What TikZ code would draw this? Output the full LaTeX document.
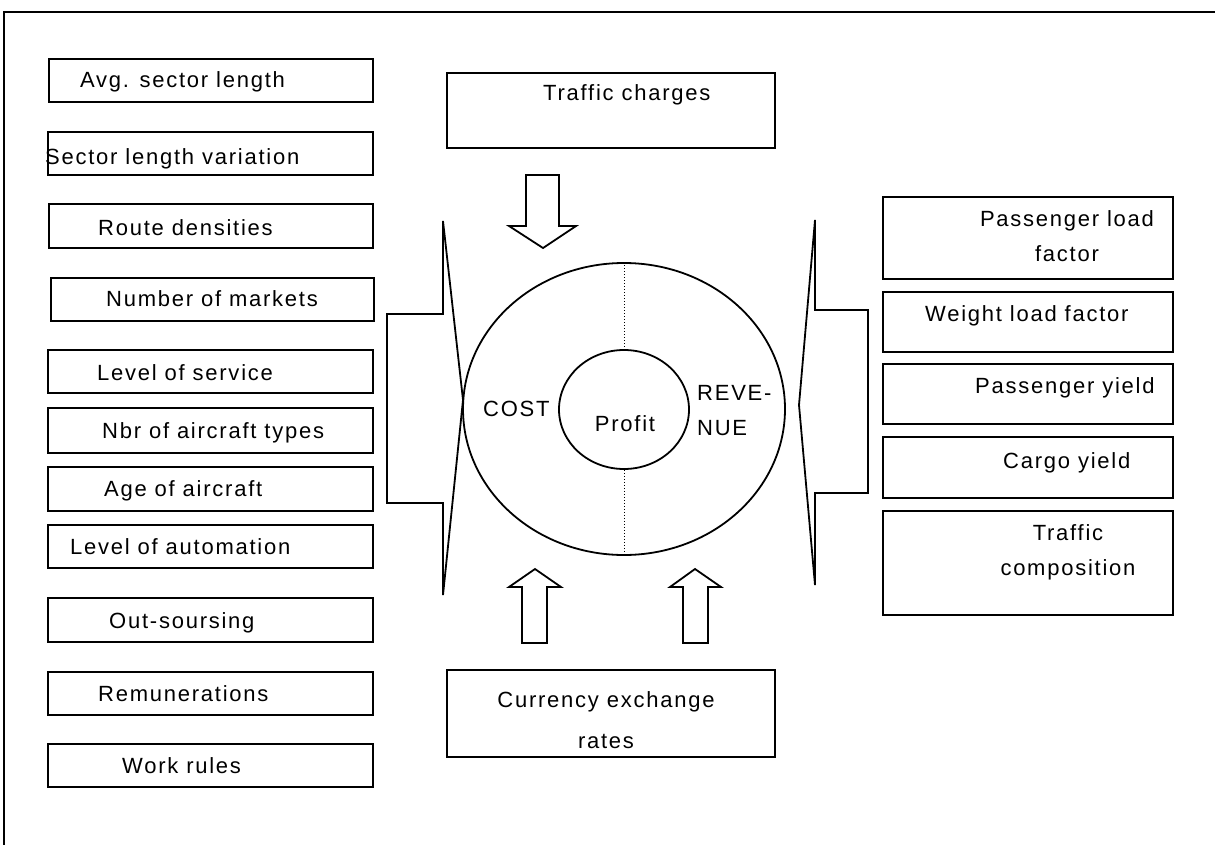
\documentclass[tikz,border=0pt]{standalone}
\usepackage{fontspec}
\setmainfont{Liberation Sans}[LetterSpace=8]
\usetikzlibrary{shapes.geometric}
\begin{document}
\begin{tikzpicture}[x=1pt,y=-1pt,
  box/.style={draw, rectangle, inner sep=0pt, line width=2pt},
  lbl/.style={inner sep=0pt, anchor=west, text height=16pt, text depth=0pt,
              font=\fontsize{22}{26}\selectfont},
  twoline/.style={inner sep=0pt, align=center, font=\fontsize{22}{35}\selectfont},
  ring/.style={draw, ellipse, inner sep=0pt, line width=1.8pt},
  blockarrow/.style={draw, line width=1.8pt, line join=miter},
  divider/.style={draw, dotted, line width=1pt}]
\useasboundingbox (0,0) rectangle (1215,845);

% page frame (top and left edges)
\draw[line width=1.8pt] (4,845) -- (4,12) -- (1215,12);

% cost drivers
\node[box, minimum width=324pt, minimum height=43pt] (b1) at (211,80.5) {};
\node[box, minimum width=325pt, minimum height=43pt] (b2) at (210.5,153.5) {};
\node[box, minimum width=324pt, minimum height=44pt] (b3) at (211,226) {};
\node[box, minimum width=323pt, minimum height=43pt] (b4) at (212.5,299.5) {};
\node[box, minimum width=325pt, minimum height=43pt] (b5) at (210.5,371.5) {};
\node[box, minimum width=325pt, minimum height=45pt] (b6) at (210.5,430.5) {};
\node[box, minimum width=325pt, minimum height=44pt] (b7) at (210.5,489) {};
\node[box, minimum width=325pt, minimum height=43pt] (b8) at (210.5,546.5) {};
\node[box, minimum width=325pt, minimum height=44pt] (b9) at (210.5,620) {};
\node[box, minimum width=325pt, minimum height=43pt] (b10) at (210.5,693.5) {};
\node[box, minimum width=325pt, minimum height=43pt] (b11) at (210.5,765.5) {};

\node[lbl] (t1) at (80,80) {Avg. sector length};
\node[lbl] (t2) at (45,157) {Sector length variation};
\node[lbl] (t3) at (98,227) {Route densities};
\node[lbl] (t4) at (106,298) {Number of markets};
\node[lbl] (t5) at (97,372) {Level of service};
\node[lbl] (t6) at (102,430) {Nbr of aircraft types};
\node[lbl] (t7) at (104,488) {Age of aircraft};
\node[lbl] (t8) at (70,546) {Level of automation};
\node[lbl] (t9) at (109,620) {Out-soursing};
\node[lbl] (t10) at (98,693) {Remunerations};
\node[lbl] (t11) at (122,765) {Work rules};

% revenue drivers
\node[box, minimum width=290pt, minimum height=82pt] (r1) at (1028,238) {};
\node[box, minimum width=290pt, minimum height=60pt] (r2) at (1028,322) {};
\node[box, minimum width=290pt, minimum height=60pt] (r3) at (1028,394) {};
\node[box, minimum width=290pt, minimum height=61pt] (r4) at (1028,467.5) {};
\node[box, minimum width=290pt, minimum height=104pt] (r5) at (1028,563) {};

\node[twoline] (s1) at (1067,236) {Passenger load\\factor};
\node[lbl] (s2) at (925,313) {Weight load factor};
\node[lbl] (s3) at (975,385) {Passenger yield};
\node[lbl] (s4) at (1003,460) {Cargo yield};
\node[twoline] (s5) at (1068,552) {Traffic\\composition};

% external factors
\node[box, minimum width=328pt, minimum height=75pt] (top) at (611,110.5) {};
\node[lbl] (ttop) at (543,93) {Traffic charges};
\node[box, minimum width=328pt, minimum height=87pt] (bot) at (611,713.5) {};
\node[twoline, font=\fontsize{22}{41}\selectfont] (tbot) at (606,720.5) {Currency exchange\\rates};

% cost / revenue / profit rings
\node[ring, minimum width=322pt, minimum height=292pt] (outer) at (624,409) {};
\node[ring, minimum width=130pt, minimum height=119pt] (inner) at (624,409.5) {};
\draw[divider] (outer.north) -- (inner.north);
\draw[divider] (inner.south) -- (outer.south);
\node[lbl] (cost) at (483,408) {COST};
\node[lbl, anchor=center] (profit) at (625,423) {Profit};
\node[twoline, align=left, anchor=west] (rev) at (697,411) {REVE-\\NUE};

% block arrows
\draw[blockarrow] (526,175) -- (559,175) -- (559,226) -- (576,226) -- (543,248)
  -- (509,226) -- (526,226) -- cycle;
\draw[blockarrow] (522,643) -- (547,643) -- (547,587) -- (561,587) -- (535,569)
  -- (509,587) -- (522,587) -- cycle;
\draw[blockarrow] (683,643) -- (708,643) -- (708,587) -- (721,587) -- (695,569)
  -- (670,587) -- (683,587) -- cycle;
\draw[blockarrow] (443,221) -- (463,400) -- (443,595) -- (443,503) -- (387,503)
  -- (387,314) -- (443,314) -- cycle;
\draw[blockarrow] (815,220) -- (799,405) -- (815,585) -- (815,493) -- (868,493)
  -- (868,310) -- (815,310) -- cycle;
\end{tikzpicture}
\end{document}
